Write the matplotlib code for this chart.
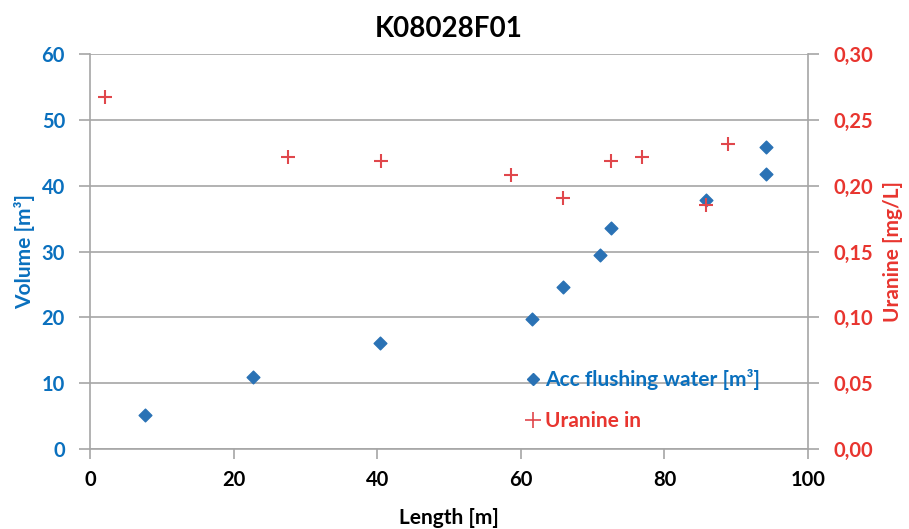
import matplotlib.pyplot as plt
from matplotlib.lines import Line2D

plt.rcParams['font.family'] = ['Lato', 'DejaVu Sans']

# accumulated flushing water
vol_len = [7.7, 22.7, 40.4, 61.6, 65.9, 71.0, 72.6, 85.8, 94.2, 94.2]
vol_m3 = [5.2, 10.9, 16.1, 19.7, 24.6, 29.5, 33.6, 37.8, 41.7, 45.8]

# uranine concentration
ur_len = [2.1, 27.6, 40.5, 58.6, 65.8, 72.6, 76.9, 85.8, 88.9]
ur_mgl = [0.267, 0.2215, 0.2185, 0.208, 0.191, 0.219, 0.222, 0.185, 0.232]

blue = '#2A72B5'
blue_txt = '#0A70BE'
red = '#E0474C'
red_txt = '#E8352F'
gray = '#A6A6A6'

fig = plt.figure(figsize=(9.09, 5.29), dpi=100)
ax = fig.add_axes([0.099, 0.151, 0.79, 0.747])
ax2 = ax.twinx()

ax.scatter(vol_len, vol_m3, marker='D', s=42, color=blue, zorder=3)
ax2.scatter(ur_len, ur_mgl, marker='+', s=110, color=red, linewidths=1.5, zorder=3)

ax.set_xlim(0, 100)
ax.set_ylim(0, 60)
ax2.set_ylim(0, 0.30)
ax.set_xticks(range(0, 101, 20))
ax.set_yticks(range(0, 61, 10))
ax2.set_yticks([0, 0.05, 0.10, 0.15, 0.20, 0.25, 0.30])
ax2.set_yticklabels([('%.2f' % v).replace('.', ',') for v in ax2.get_yticks()])

ax.grid(axis='y', color=gray, linewidth=1.2)
ax.set_axisbelow(True)
for a in (ax, ax2):
    a.spines['top'].set_visible(False)
    for s in ('left', 'right', 'bottom'):
        a.spines[s].set_color(gray)
        a.spines[s].set_linewidth(1.2)
ax.spines['right'].set_visible(False)
ax2.spines['left'].set_visible(False)
ax2.spines['bottom'].set_visible(False)

ax.tick_params(axis='x', colors=gray, length=7, width=1.2, labelcolor='black', labelsize=14.5, pad=8)
ax.tick_params(axis='y', colors=gray, length=8, width=1.2, labelcolor=blue_txt, labelsize=14.5, pad=10)
ax2.tick_params(axis='y', colors=gray, length=8, width=1.2, labelcolor=red_txt, labelsize=14.5, pad=10)
for lab in ax.get_xticklabels() + ax.get_yticklabels() + ax2.get_yticklabels():
    lab.set_fontweight('bold')

ax.set_xlabel('Length [m]', fontsize=15, fontweight='bold', labelpad=13)
ax.set_ylabel('Volume [m³]', fontsize=15, fontweight='bold', color=blue_txt, labelpad=5)
ax2.set_ylabel('Uranine [mg/L]', fontsize=15, fontweight='bold', color=red_txt, labelpad=7)
ax.set_title('K08028F01', fontsize=20, fontweight='bold', pad=12)

handles = [
    Line2D([], [], marker='D', color=blue, linestyle='none', markersize=6),
    Line2D([], [], marker='+', color=red, linestyle='none', markersize=11, markeredgewidth=1.2),
]
leg = ax.legend(handles, ['Acc flushing water [m³]', 'Uranine in'],
                loc='upper left', bbox_to_anchor=(0.576, 0.25), frameon=False,
                prop={'size': 15, 'weight': 'bold'}, handletextpad=0.1,
                handlelength=1.0, labelspacing=1.0)
for txt, c in zip(leg.get_texts(), (blue_txt, red_txt)):
    txt.set_color(c)

fig.savefig('out.png', dpi=100)
